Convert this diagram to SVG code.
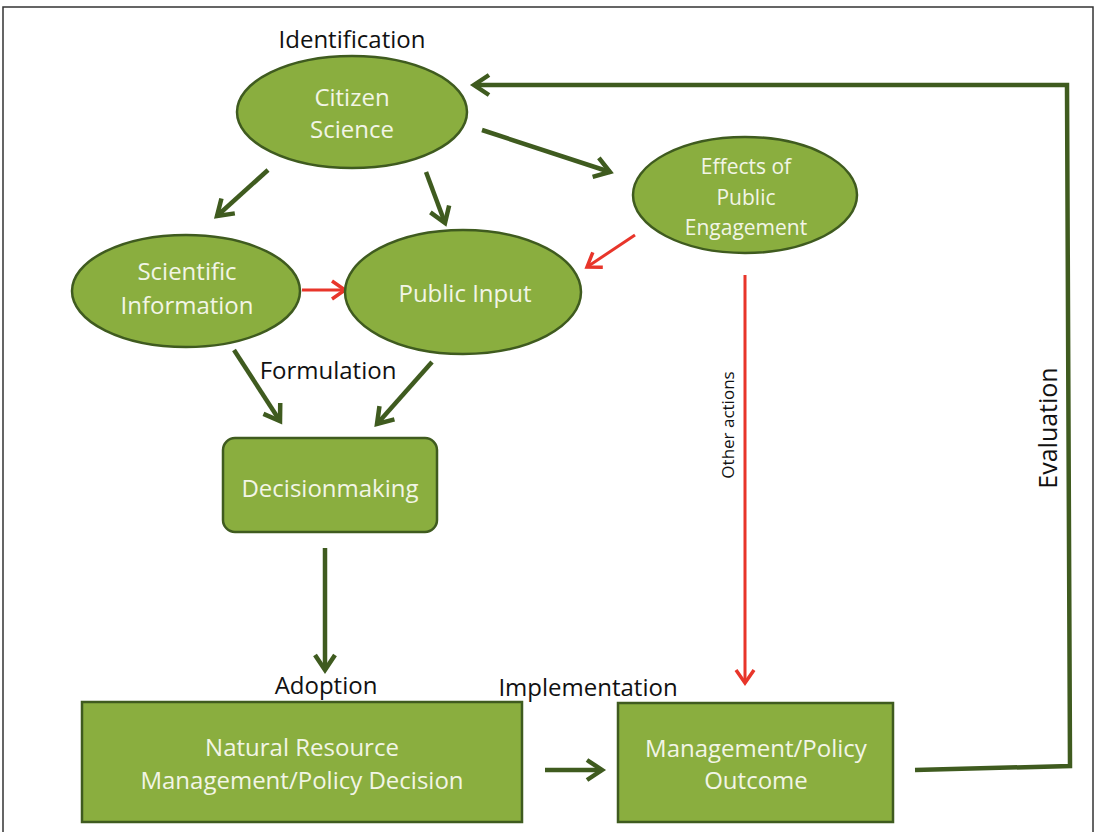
<svg xmlns="http://www.w3.org/2000/svg" width="1096" height="832" viewBox="0 0 1096 832">
<style>
.node{fill:#8aae3f;stroke:#3f5b1f;stroke-width:2.5}
.nt{font-family:"Open Sans","Liberation Sans",sans-serif;fill:#f2f5e6;text-anchor:middle}
.lbl{font-family:"Open Sans","Liberation Sans",sans-serif;fill:#111;text-anchor:middle}
.g{fill:none;stroke:#3f5b1f;stroke-width:4.5}
.r{fill:none;stroke:#e8352a;stroke-width:3}
</style>
<defs>
<marker id="ag" markerUnits="userSpaceOnUse" markerWidth="30" markerHeight="30" viewBox="-20 -15 30 30" refX="0" refY="0" orient="auto">
<path d="M-15,-10 L0,0 L-15,10" fill="none" stroke="#3f5b1f" stroke-width="4.5"/>
</marker>
<marker id="ar" markerUnits="userSpaceOnUse" markerWidth="30" markerHeight="30" viewBox="-20 -15 30 30" refX="0" refY="0" orient="auto">
<path d="M-13,-9 L0,0 L-13,9" fill="none" stroke="#e8352a" stroke-width="3.5"/>
</marker>
</defs>
<rect x="3" y="7" width="1090" height="840" fill="#fff" stroke="#333" stroke-width="1.5"/>

<g id="connectors">
<line class="g" x1="268" y1="170" x2="217" y2="216" marker-end="url(#ag)"/>
<line class="g" x1="426" y1="172" x2="445" y2="223" marker-end="url(#ag)"/>
<line class="g" x1="482" y1="130" x2="610" y2="172" marker-end="url(#ag)"/>
<line class="r" x1="302" y1="290" x2="345" y2="290" marker-end="url(#ar)"/>
<line class="r" x1="635" y1="235" x2="587" y2="267" marker-end="url(#ar)"/>
<line class="g" x1="234" y1="350" x2="280" y2="421" marker-end="url(#ag)"/>
<line class="g" x1="432" y1="362" x2="377" y2="424" marker-end="url(#ag)"/>
<line class="g" x1="325" y1="548" x2="325" y2="670" marker-end="url(#ag)"/>
<line class="r" x1="745" y1="275" x2="745" y2="683" marker-end="url(#ar)"/>
<line class="g" x1="545" y1="770" x2="602" y2="770" marker-end="url(#ag)"/>
<polyline class="g" points="915,770 1070,766 1067,85 474,85" marker-end="url(#ag)"/>
</g>

<g id="citizen-science">
<ellipse class="node" cx="352" cy="112" rx="115" ry="56"/>
<text class="nt" x="352" y="106" font-size="24">Citizen</text>
<text class="nt" x="352" y="138" font-size="24">Science</text>
</g>
<g id="effects">
<ellipse class="node" cx="745" cy="195" rx="112" ry="58"/>
<text class="nt" x="746" y="174" font-size="21">Effects of</text>
<text class="nt" x="746" y="205" font-size="21">Public</text>
<text class="nt" x="746" y="235" font-size="21">Engagement</text>
</g>
<g id="scientific-information">
<ellipse class="node" cx="186" cy="291" rx="114" ry="56"/>
<text class="nt" x="187" y="280" font-size="24">Scientific</text>
<text class="nt" x="187" y="314" font-size="24">Information</text>
</g>
<g id="public-input">
<ellipse class="node" cx="463" cy="292" rx="118" ry="62"/>
<text class="nt" x="465" y="302" font-size="24">Public Input</text>
</g>
<g id="decisionmaking">
<rect class="node" x="223" y="438" width="214" height="94" rx="12"/>
<text class="nt" x="330" y="497" font-size="24">Decisionmaking</text>
</g>
<g id="nrm-decision">
<rect class="node" x="82" y="702" width="440" height="120"/>
<text class="nt" x="302" y="756" font-size="24">Natural Resource</text>
<text class="nt" x="302" y="789" font-size="24">Management/Policy Decision</text>
</g>
<g id="outcome">
<rect class="node" x="618" y="703" width="275" height="119"/>
<text class="nt" x="756" y="757" font-size="24">Management/Policy</text>
<text class="nt" x="756" y="789" font-size="24">Outcome</text>
</g>

<g id="labels">
<text class="lbl" x="352" y="48" font-size="24">Identification</text>
<text class="lbl" x="328" y="379" font-size="24">Formulation</text>
<text class="lbl" x="326" y="694" font-size="24">Adoption</text>
<text class="lbl" x="588" y="696" font-size="24">Implementation</text>
<text class="lbl" transform="translate(734,425) rotate(-90)" font-size="17">Other actions</text>
<text class="lbl" transform="translate(1057,428) rotate(-90)" font-size="25">Evaluation</text>
</g>
</svg>
